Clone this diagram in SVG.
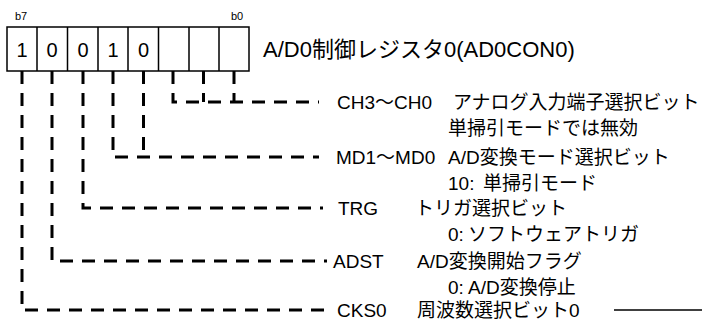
<svg xmlns="http://www.w3.org/2000/svg" width="702" height="322" viewBox="0 0 702 322">
<style>
.t{font-family:"Liberation Sans","Noto Sans CJK JP",sans-serif;font-size:19px;fill:#000}
.b{font-size:20px}
.h{font-size:22px}
.s{font-family:"Liberation Sans",sans-serif;font-size:11px;fill:#000}
.c{fill:#fff;stroke:#000;stroke-width:1.5}
.d{fill:none;stroke:#000;stroke-width:3;stroke-dasharray:13 9}
</style>
<rect width="702" height="322" fill="#fff"/>
<g id="register">
<text class="s" x="15" y="20">b7</text>
<text class="s" x="231" y="20">b0</text>
<rect class="c" x="7" y="27" width="242" height="44"/>
<path d="M37 27V71M67.5 27V71M98 27V71M128 27V71M158.5 27V71M189 27V71M219 27V71" stroke="#000" stroke-width="1.5"/>
<g class="t b" text-anchor="middle">
<text x="22" y="56.5">1</text>
<text x="52" y="56.5">0</text>
<text x="83" y="56.5">0</text>
<text x="113" y="56.5">1</text>
<text x="143.5" y="56.5">0</text>
</g>
<text class="t h" x="263" y="56.5">A/D0制御レジスタ0(AD0CON0)</text>
</g>
<g id="connectors">
<path class="d" d="M173 71V102H319"/>
<path class="d" d="M203.5 71V102"/>
<path class="d" d="M234 71V102"/>
<path class="d" d="M113 71V157H319"/>
<path class="d" d="M143.5 71V157"/>
<path class="d" d="M83 71V208H323"/>
<path class="d" d="M52 71V261H327"/>
<path class="d" d="M22 71V310H325"/>
<path d="M614 310H702" stroke="#000" stroke-width="1.5"/>
</g>
<g id="ch">
<text class="t" x="337" y="108.5">CH3～CH0</text>
<text class="t" x="453" y="108.5">アナログ入力端子選択ビット</text>
<text class="t" x="448" y="134.5">単掃引モードでは無効</text>
</g>
<g id="md">
<text class="t" x="336" y="163.5">MD1～MD0</text>
<text class="t" x="448" y="163.5">A/D変換モード選択ビット</text>
<text class="t" y="189.5"><tspan x="448">10:</tspan><tspan x="483">単掃引モード</tspan></text>
</g>
<g id="trg">
<text class="t" x="338" y="214.5">TRG</text>
<text class="t" x="415" y="214.5">トリガ選択ビット</text>
<text class="t" y="241"><tspan x="448">0:</tspan><tspan x="468">ソフトウェアトリガ</tspan></text>
</g>
<g id="adst">
<text class="t" x="333" y="267.5">ADST</text>
<text class="t" x="417" y="267.5">A/D変換開始フラグ</text>
<text class="t" y="293.5"><tspan x="448">0:</tspan><tspan x="468">A/D変換停止</tspan></text>
</g>
<g id="cks0">
<text class="t" x="337" y="317">CKS0</text>
<text class="t" x="417" y="317">周波数選択ビット0</text>
</g>
</svg>
